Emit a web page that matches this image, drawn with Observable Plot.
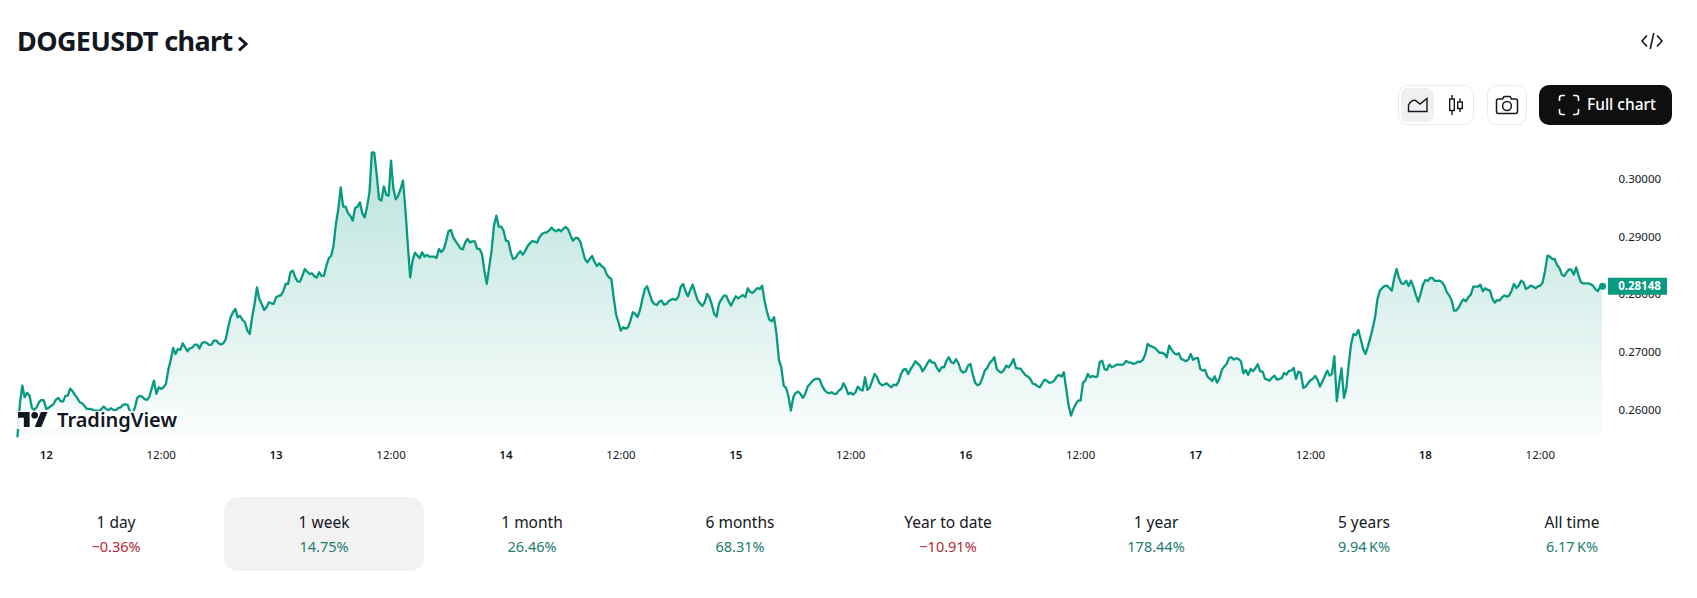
<!DOCTYPE html>
<html>
<head>
<meta charset="utf-8">
<script src="https://cdn.jsdelivr.net/npm/d3@7"></script>
<script src="https://cdn.jsdelivr.net/npm/@observablehq/plot@0.6"></script>
<style>
  body { margin: 0; background: #fff; font-family: "Noto Sans", sans-serif; color: #131722; }
  #page { position: relative; width: 1697px; height: 598px; overflow: hidden; }
  #page > * { position: absolute; }
  #chart { left: 0; top: 130px; }
  #title { left: 17px; top: 22px; font-size: 27px; font-weight: 700; line-height: 38px; letter-spacing: -0.6px; white-space: nowrap; }
  .box { box-sizing: border-box; border: 1px solid #ebebeb; border-radius: 10px; top: 85px; height: 40px; }
  #fullchart { left: 1539px; top: 85px; width: 133px; height: 40px; background: #0f0f0f; border-radius: 10px; }
  #fulltext { left: 1587px; top: 84px; line-height: 40px; color: #fff; font-size: 15.5px; font-weight: 500; white-space: nowrap; }
  #logotext { left: 57px; top: 407px; font-size: 20px; font-weight: 600; line-height: 26px; color: #131722; }
  #logobg { left: 17px; top: 411px; width: 160px; height: 18px; background: rgba(255,255,255,.85); }
  .tab { width: 200px; text-align: center; top: 497px; height: 74px; border-radius: 14px; }
  .tab.on { background: #f2f2f2; }
  .tab div:first-child { margin-top: 14px; font-size: 15.5px; line-height: 22px; }
  .tab div:last-child { margin-top: 3px; font-size: 14.5px; line-height: 20px; }
</style>
</head>
<body>
<div id="page">
  <div id="chart"></div>
  <div id="title">DOGEUSDT chart</div>
  <svg style="left:236px;top:34px" width="14" height="20" viewBox="0 0 14 20"><path d="M3 3.5 L10 10 L3 16.5" fill="none" stroke="#131722" stroke-width="3"/></svg>
  <svg style="left:1640px;top:29px" width="24" height="24" viewBox="0 0 24 24" fill="none" stroke="#131722" stroke-width="1.6"><path d="M7 6.5 L2 12 L7 17.5 M17 6.5 L22 12 L17 17.5 M13.8 4 L10.2 20"/></svg>

  <div class="box" style="left:1398px;width:76px"></div>
  <div style="left:1401px;top:88px;width:33px;height:34px;background:#f0f0f0;border-radius:7px"></div>
  <svg style="left:1406px;top:95px" width="24" height="20" viewBox="0 0 24 20" fill="none" stroke="#131722" stroke-width="1.4"><path d="M2.5 16.5 V10 C5 6 8 5 9.5 5.5 L14 9 L21 3.5 V16.5 Z"/></svg>
  <svg style="left:1445px;top:93px" width="20" height="24" viewBox="0 0 20 24" fill="none" stroke="#131722" stroke-width="1.4"><path d="M7 2 V22 M15 5.5 V19"/><rect x="4.7" y="6" width="4.6" height="11.5" fill="#fff"/><rect x="12.7" y="9" width="4.6" height="6.5" fill="#fff"/></svg>

  <div class="box" style="left:1487px;width:40px"></div>
  <svg style="left:1495px;top:94px" width="24" height="22" viewBox="0 0 24 22" fill="none" stroke="#131722" stroke-width="1.5"><path d="M3.5 5 H7.5 L9 2.5 H15 L16.5 5 H20.5 Q22.5 5 22.5 7 V17.5 Q22.5 19.5 20.5 19.5 H3.5 Q1.5 19.5 1.5 17.5 V7 Q1.5 5 3.5 5 Z"/><circle cx="12" cy="12" r="4.4"/></svg>

  <div id="fullchart"></div>
  <svg style="left:1558px;top:94px" width="22" height="22" viewBox="0 0 22 22" fill="none" stroke="#fff" stroke-width="1.6"><path d="M1.5 7 V4 Q1.5 1.5 4 1.5 H7 M15 1.5 H18 Q20.5 1.5 20.5 4 V7 M20.5 15 V18 Q20.5 20.5 18 20.5 H15 M7 20.5 H4 Q1.5 20.5 1.5 18 V15"/></svg>
  <div id="fulltext">Full chart</div>

  <div id="logobg"></div>
  <svg style="left:18px;top:412px" width="30" height="15" viewBox="0 4 36 18" preserveAspectRatio="none"><path d="M14 22H7V11H0V4h14v18zM28 22h-8l7.5-18h8L28 22z" fill="#131722"/><circle cx="20" cy="8" r="4" fill="#131722"/></svg>
  <div id="logotext">TradingView</div>
</div>
<script>
// one price every 15 minutes, first bar is 21:00 on the 11th, rows end on the half day
const prices = [
  .25546,.26111,.26428,.26226,.26301,.26255,.26042,.26007,.26053,.26140,.26180,.26169,
  .26023,.26040,.26075,.26104,.26179,.26214,.26156,.26150,.26248,.26254,.26375,.26329,.26266,.26208,.26139,.26121,.26075,.26023,.26023,.26017,.25994,.25994,.25983,.26017,.26064,.26023,.26000,.26035,.26006,.25994,.26040,.26046,.26092,.26104,.26092,.25977,.25937,.26040,.26214,.26248,.26237,.26196,.26179,.26225,.26369,.26514,.26283,.26398,
  .26369,.26398,.26456,.26704,.26872,.27079,.26975,.27062,.27045,.27160,.27091,.27022,.27074,.27085,.27137,.27137,.27068,.27160,.27183,.27166,.27131,.27137,.27206,.27206,.27160,.27137,.27160,.27235,.27437,.27610,.27697,.27755,.27610,.27633,.27564,.27524,.27380,.27322,.27610,.27841,.28130,.27928,.27841,.27737,.27784,.27870,.27853,.27841,
  .27957,.27980,.27991,.28061,.28188,.28188,.28390,.28418,.28303,.28234,.28228,.28332,.28447,.28401,.28361,.28372,.28320,.28297,.28390,.28326,.28332,.28505,.28632,.28678,.28851,.29227,.29486,.29861,.29527,.29527,.29417,.29371,.29284,.29504,.29527,.29602,.29411,.29342,.29527,.29775,.30468,.30462,.30092,.29659,.29631,.29879,.29734,.29717,
  .30323,.29833,.29654,.29717,.29833,.29977,.29486,.28880,.28303,.28592,.28730,.28678,.28638,.28736,.28661,.28690,.28661,.28661,.28661,.28638,.28794,.28742,.28788,.28926,.29100,.29123,.28996,.28926,.28869,.28805,.28788,.28909,.28967,.28909,.28926,.28926,.28794,.28794,.28707,.28418,.28188,.28476,.28765,.29198,.29371,.29180,.29180,.29111,
  .28938,.28926,.28736,.28620,.28638,.28707,.28753,.28696,.28753,.28840,.28892,.28932,.28921,.28903,.28996,.29053,.29076,.29082,.29111,.29163,.29123,.29100,.29134,.29100,.29146,.29175,.29134,.29025,.28938,.28984,.28984,.28926,.28776,.28620,.28563,.28620,.28672,.28569,.28499,.28545,.28494,.28470,.28361,.28303,.28274,.27957,.27657,.27524,
  .27380,.27437,.27414,.27437,.27553,.27697,.27668,.27616,.27737,.27928,.28101,.28147,.28014,.27893,.27841,.27824,.27882,.27899,.27830,.27841,.27893,.27916,.27928,.27911,.27968,.28141,.28188,.28061,.27974,.28084,.28176,.28043,.27911,.27853,.27807,.27870,.28014,.27957,.27830,.27668,.27622,.27853,.27922,.27986,.27986,.27887,.27812,.27899,
  .27974,.27939,.27968,.27997,.27957,.28113,.28049,.28032,.28072,.28118,.28101,.28159,.27899,.27709,.27570,.27541,.27610,.27322,.26872,.26745,.26427,.26387,.26242,.25994,.26225,.26300,.26323,.26283,.26214,.26283,.26410,.26456,.26508,.26537,.26548,.26537,.26427,.26352,.26312,.26294,.26312,.26283,.26283,.26341,.26369,.26468,.26387,.26277,
  .26306,.26271,.26312,.26410,.26358,.26341,.26571,.26352,.26398,.26514,.26629,.26571,.26468,.26433,.26444,.26468,.26427,.26398,.26444,.26433,.26496,.26629,.26704,.26716,.26629,.26710,.26773,.26849,.26808,.26768,.26675,.26733,.26814,.26872,.26825,.26825,.26733,.26675,.26745,.26745,.26860,.26918,.26831,.26814,.26883,.26814,.26687,.26652,
  .26675,.26773,.26802,.26618,.26473,.26433,.26456,.26560,.26687,.26733,.26820,.26860,.26918,.26716,.26670,.26652,.26698,.26773,.26745,.26802,.26889,.26733,.26722,.26722,.26658,.26606,.26583,.26543,.26462,.26450,.26416,.26398,.26468,.26531,.26508,.26473,.26485,.26514,.26583,.26612,.26583,.26658,.26369,.26081,.25908,.26023,.26110,.26167,
  .26167,.26479,.26514,.26629,.26571,.26595,.26577,.26583,.26831,.26860,.26716,.26698,.26791,.26745,.26762,.26791,.26791,.26785,.26797,.26854,.26831,.26825,.26802,.26814,.26843,.26837,.26872,.26964,.27149,.27114,.27102,.27079,.27039,.26993,.26999,.26975,.26918,.27120,.27050,.26993,.26964,.26987,.26889,.26872,.26849,.26877,.26975,.26872,
  .26900,.26906,.26716,.26687,.26698,.26583,.26548,.26508,.26589,.26479,.26554,.26698,.26756,.26802,.26906,.26918,.26877,.26900,.26889,.26843,.26641,.26698,.26612,.26716,.26675,.26727,.26797,.26675,.26675,.26548,.26531,.26514,.26566,.26600,.26531,.26543,.26554,.26646,.26618,.26681,.26687,.26733,.26543,.26670,.26646,.26387,.26410,.26468,
  .26519,.26543,.26595,.26525,.26410,.26496,.26589,.26687,.26600,.26629,.26935,.26156,.26456,.26727,.26214,.26381,.26802,.27149,.27322,.27304,.27391,.27235,.27062,.26975,.27102,.27253,.27420,.27610,.27928,.28072,.28118,.28153,.28159,.28118,.28072,.28291,.28447,.28291,.28199,.28188,.28245,.28153,.28245,.28141,.28003,.27882,.28014,.28176,
  .28257,.28240,.28291,.28291,.28240,.28240,.28245,.28216,.28153,.28043,.27986,.27899,.27726,.27732,.27784,.27870,.27922,.27887,.27963,.28003,.28141,.28141,.28141,.28176,.28061,.28113,.28084,.28072,.27928,.27864,.27911,.27899,.27957,.27991,.27968,.27986,.28072,.28188,.28118,.28159,.28245,.28216,.28101,.28124,.28159,.28141,.28113,.28147,
  .28159,.28216,.28418,.28678,.28661,.28620,.28620,.28517,.28465,.28349,.28326,.28390,.28442,.28436,.28349,.28476,.28332,.28216,.28199,.28199,.28199,.28182,.28159,.28101,.28061,.28141,.28148
];
const hours = prices.map((p, i) => -3 + i / 4);
const lastPrice = [0.28148];

const priceTicks = [0.26, 0.27, 0.28, 0.29, 0.30];
const dayTicks = [0, 24, 48, 72, 96, 120, 144];
const dayLabels = ["12", "13", "14", "15", "16", "17", "18"];
const noonTicks = [12, 36, 60, 84, 108, 132, 156];

const tabLabels = ["1 day", "1 week", "1 month", "6 months", "Year to date", "1 year", "5 years", "All time"];
const tabValues = ["−0.36%", "14.75%", "26.46%", "68.31%", "−10.91%", "178.44%", "9.94\u202fK%", "6.17\u202fK%"];

const lineColor = "#089981";
const baseline = 0.25545;
const rows = prices.map((p, i) => ({ hour: hours[i], price: p }));

let chart = Plot.plot({
  width: 1697,
  height: 340,
  marginLeft: 17,
  marginRight: 94,
  marginTop: 20,
  marginBottom: 34,
  x: { domain: [-3, 162.6] },
  y: { domain: [baseline, 0.305] },
  style: { background: "transparent", fontFamily: "'Noto Sans', sans-serif", color: "#131722", overflow: "visible" },
  marks: [
    Plot.areaY(rows, { x: "hour", y1: () => baseline, y2: "price", fill: "url(#areaFade)" }),
    Plot.axisY(priceTicks, { anchor: "right", tickSize: 0, tickPadding: 15, tickFormat: ".5f", fontSize: 11.5, label: null }),
    Plot.lineY(rows, { x: "hour", y: "price", stroke: lineColor, strokeWidth: 2.3 }),
    Plot.dot(rows.slice(-1), { x: "hour", y: "price", r: 3.5, fill: lineColor }),
    Plot.ruleY(lastPrice, { insetLeft: 1591, insetRight: -64, stroke: lineColor, strokeWidth: 17 }),
    Plot.text(lastPrice, { x: () => 162.6, y: d => d, text: d => d.toFixed(5), dx: 36, fill: "#fff", fontSize: 11.5, fontWeight: 700 }),
    Plot.axisX(dayTicks, { anchor: "bottom", tickSize: 0, tickPadding: 14, tickFormat: (d, i) => dayLabels[i], fontSize: 11.5, fontWeight: 600, label: null }),
    Plot.axisX(noonTicks, { anchor: "bottom", tickSize: 0, tickPadding: 14, tickFormat: () => "12:00", fontSize: 11.5, label: null })
  ]
});

d3.select(chart).append("defs").html(
  `<linearGradient id="areaFade" x1="0" y1="0" x2="0" y2="1">
     <stop offset="0" stop-color="${lineColor}" stop-opacity="0.28"/>
     <stop offset="1" stop-color="${lineColor}" stop-opacity="0.02"/>
   </linearGradient>`
);
d3.select("#chart").append(() => chart);

// period tabs under the chart
const page = d3.select("#page");
tabLabels.forEach((label, i) => {
  const tab = page.append("div").attr("class", i === 1 ? "tab on" : "tab").style("left", (16 + 208 * i) + "px");
  tab.append("div").text(label);
  tab.append("div").text(tabValues[i]).style("color", tabValues[i].startsWith("−") ? "#b22833" : "#1c7d6d");
});
</script>
</body>
</html>
